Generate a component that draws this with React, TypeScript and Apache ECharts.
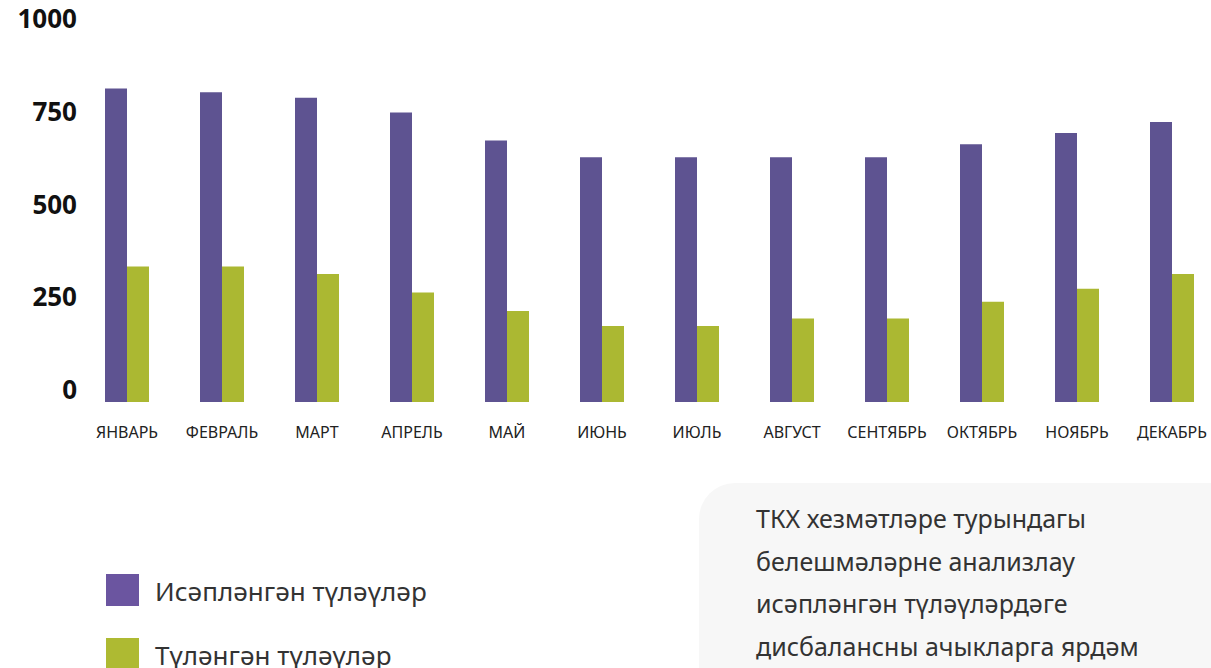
import React, { useEffect, useRef } from "react";
import * as echarts from "echarts";

const months = ["ЯНВАРЬ", "ФЕВРАЛЬ", "МАРТ", "АПРЕЛЬ", "МАЙ", "ИЮНЬ", "ИЮЛЬ", "АВГУСТ", "СЕНТЯБРЬ", "ОКТЯБРЬ", "НОЯБРЬ", "ДЕКАБРЬ"];
const accrued = [845, 835, 820, 780, 705, 660, 660, 660, 660, 695, 725, 755];
const paid = [365, 365, 345, 295, 245, 205, 205, 225, 225, 270, 305, 345];
const seriesNames = ["Исәпләнгән түләүләр", "Түләнгән түләүләр"];
const legendColors = ["#6b55a0", "#aeba32"];
const noteLines = [
  "ТКХ хезмәтләре турындагы",
  "белешмәләрне анализлау",
  "исәпләнгән түләүләрдәге",
  "дисбалансны ачыкларга ярдәм",
];

const PURPLE = "#5e5391";
const GREEN = "#abb832";

export default function App() {
  const ref = useRef<HTMLDivElement>(null);
  useEffect(() => {
    if (!ref.current) return;
    const chart = echarts.init(ref.current, undefined, { renderer: "svg" });
    chart.setOption({
      animation: false,
      backgroundColor: "#ffffff",
      grid: { left: 79.5, top: 31, width: 1140, height: 371, containLabel: false },
      xAxis: {
        type: "category",
        data: months,
        axisLine: { show: false },
        axisTick: { show: false },
        axisLabel: {
          interval: 0,
          margin: 22,
          fontSize: 16,
          color: "#222",
          fontFamily: "Noto Sans",
        },
      },
      yAxis: {
        type: "value",
        min: 0,
        max: 1000,
        interval: 250,
        splitLine: { show: false },
        axisLine: { show: false },
        axisTick: { show: false },
        axisLabel: {
          margin: 2.5,
          fontSize: 26,
          fontWeight: "bold",
          color: "#111",
          fontFamily: "Noto Sans",
          verticalAlign: "bottom",
          formatter: (v: number) => String(v),
        },
      },
      series: [
        {
          name: seriesNames[0],
          type: "bar",
          data: accrued,
          barWidth: 22,
          barGap: "0%",
          itemStyle: { color: PURPLE },
        },
        {
          name: seriesNames[1],
          type: "bar",
          data: paid,
          barWidth: 22,
          barGap: "0%",
          itemStyle: { color: GREEN },
        },
      ],
      graphic: [
        {
          type: "rect",
          shape: { x: 699, y: 483, width: 600, height: 300, r: 36 },
          style: { fill: "#f7f7f7" },
          z: -1,
        },
        ...noteLines.map((t, i) => ({
          type: "text",
          x: 756,
          y: 518 + i * 42.5,
          style: {
            text: t,
            font: "25px 'Noto Sans'",
            fill: "#333",
            verticalAlign: "middle",
          },
        })),
        ...seriesNames.map((n, i) => ({
          type: "rect",
          shape: { x: 106, y: 574 + i * 64, width: 33, height: 32 },
          style: { fill: legendColors[i] },
        })),
        ...seriesNames.map((n, i) => ({
          type: "text",
          x: 155,
          y: 591 + i * 64,
          style: {
            text: n,
            font: "26px 'Noto Sans'",
            fill: "#333",
            verticalAlign: "middle",
          },
        })),
      ],
    });
    return () => chart.dispose();
  }, []);
  return (
    <div style={{ position: "absolute", left: 0, top: 0, width: 1211, height: 668, overflow: "hidden" }}>
      <div ref={ref} style={{ width: 1230, height: 668 }} />
    </div>
  );
}
